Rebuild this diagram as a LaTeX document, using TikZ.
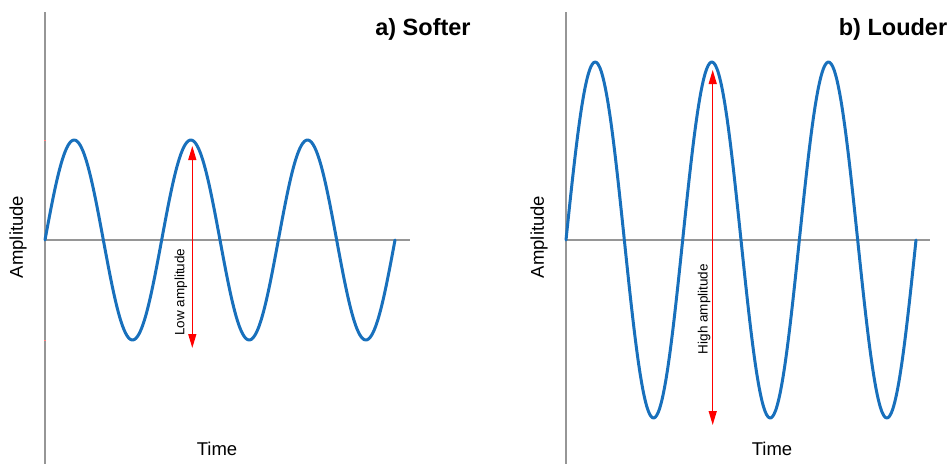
\documentclass[tikz,border=0pt]{standalone}
\usepackage{fontspec}
\setmainfont{Liberation Sans}
\usetikzlibrary{arrows.meta}
\definecolor{wave}{RGB}{24,112,188}
\definecolor{axisgray}{RGB}{150,150,150}
\definecolor{ampred}{RGB}{255,0,0}
\tikzset{
  axisline/.style={draw=axisgray, line width=1.4pt},
  waveline/.style={draw=wave, line width=3pt, line join=round, line cap=round},
  amparrow/.style={draw=ampred, line width=1.3pt, {Triangle[length=14pt,width=8pt]}-{Triangle[length=14pt,width=8pt]}},
  title/.style={font=\fontsize{23.5}{28}\selectfont\bfseries, inner sep=0pt},
  axlabel/.style={font=\fontsize{18.5}{22}\selectfont, inner sep=0pt},
  amplabel/.style={font=\fontsize{13.5}{16}\selectfont, inner sep=0pt, rotate=90},
  tickmark/.style={draw=ampred!50, line width=0.8pt}
}
\begin{document}
\begin{tikzpicture}[x=1pt,y=-1pt]
\useasboundingbox (0,0) rectangle (952,464);
% ---------- panel a ----------
\coordinate (aTop) at (45,12);
\coordinate (aBot) at (45,464);
\coordinate (aO) at (45,240);
\coordinate (aEnd) at (410,240);
\draw[axisline] (aTop) -- (aBot);
\draw[axisline] (aO) -- (aEnd);
\draw[tickmark] (44,140) -- (46,140);
\draw[tickmark] (44,340) -- (46,340);
\draw[waveline] plot[domain=0:350, samples=240, smooth] ({45+\x},{240-100*sin(3.085714*\x)});
\coordinate (aUp) at (192.3,146);
\coordinate (aDn) at (192.3,348);
\draw[amparrow] (aUp) -- (aDn);
\node[amplabel] (lowlab) at (181,292) {Low amplitude};
\node[axlabel, rotate=90] (aAmp) at (18,237) {Amplitude};
\node[axlabel] (aTime) at (217,449) {Time};
\node[title] (aTitle) at (423,29) {a) Softer};
% ---------- panel b ----------
\coordinate (bTop) at (566,12);
\coordinate (bBot) at (566,464);
\coordinate (bO) at (566,240);
\coordinate (bEnd) at (930,240);
\draw[axisline] (bTop) -- (bBot);
\draw[axisline] (bO) -- (bEnd);
\draw[waveline] plot[domain=0:350, samples=240, smooth] ({566+\x},{240-178*sin(3.085714*\x)});
\coordinate (bUp) at (712.7,70);
\coordinate (bDn) at (712.7,425);
\draw[amparrow] (bUp) -- (bDn);
\node[amplabel] (highlab) at (704,309) {High amplitude};
\node[axlabel, rotate=90] (bAmp) at (539,237) {Amplitude};
\node[axlabel] (bTime) at (772,449) {Time};
\node[title] (bTitle) at (893,29) {b) Louder};
\end{tikzpicture}
\end{document}
